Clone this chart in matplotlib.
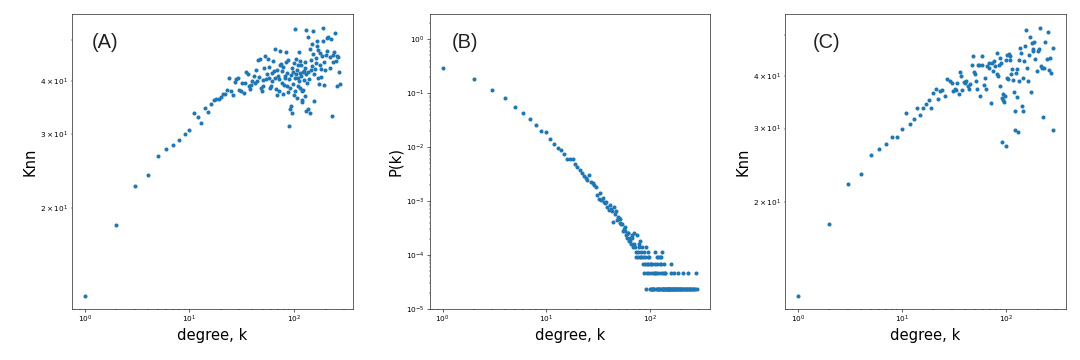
import matplotlib
matplotlib.use("Agg")
import numpy as np
import matplotlib.pyplot as plt

# panel A: average neighbour degree vs degree
deg_a = [1, 2, 3, 4, 5, 6, 7, 8, 9, 10, 11, 12, 13, 14, 15, 16, 17, 18, 19, 20,
         21, 22, 23, 24, 25, 26, 27, 28, 29, 30, 31, 32, 33, 34, 35, 36, 37, 38, 39, 40,
         41, 42, 43, 44, 45, 46, 47, 48, 49, 50, 51, 52, 53, 54, 55, 56, 57, 58, 59, 60,
         61, 62, 63, 64, 65, 66, 67, 68, 69, 70, 71, 72, 73, 74, 75, 76, 77, 78, 79, 80,
         81, 82, 83, 84, 85, 86, 87, 88, 89, 90, 91, 92, 93, 94, 95, 96, 97, 98, 99, 100,
         101, 102, 103, 104, 105, 106, 107, 108, 109, 110, 111, 112, 113, 114, 115, 116, 117, 118, 119, 120,
         121, 122, 123, 124, 126, 127, 128, 129, 130, 131, 133, 135, 136, 137, 139, 141, 142, 144, 146, 147,
         149, 151, 152, 154, 155, 158, 161, 163, 164, 166, 168, 170, 173, 175, 177, 179, 182, 184, 188, 190,
         193, 195, 197, 201, 205, 208, 213, 218, 220, 225, 230, 235, 237, 243, 246, 252, 255, 259, 265, 270, 275]
knn_a = [12.4, 18.2, 22.6, 24.0, 26.6, 27.6, 28.2, 29.0, 30.0, 30.6, 33.6, 32.8, 31.8, 34.6, 33.8, 35.3, 36.0, 36.3, 36.2, 36.7,
         37.2, 37.3, 38.2, 40.6, 37.9, 37.0, 39.9, 40.4, 40.6, 38.2, 37.9, 39.7, 37.5, 39.7, 42.0, 41.5, 38.9, 38.3, 39.2, 40.0,
         41.1, 39.5, 42.6, 40.0, 44.9, 41.0, 45.2, 38.6, 38.0, 38.9, 40.2, 43.0, 45.9, 40.4, 41.6, 45.2, 40.6, 43.2, 38.6, 38.9,
         40.1, 41.9, 44.6, 42.3, 47.8, 40.8, 38.3, 42.6, 37.0, 41.2, 37.9, 40.5, 47.1, 43.8, 44.0, 42.3, 39.7, 43.2, 37.2, 39.1,
         41.1, 40.6, 46.9, 44.3, 39.0, 41.9, 45.0, 37.6, 31.3, 40.4, 34.3, 38.6, 41.3, 35.0, 43.0, 33.6, 39.4, 42.0, 44.2, 37.0,
         53.1, 40.8, 38.0, 41.5, 45.1, 42.5, 36.5, 38.9, 43.6, 40.6, 46.8, 40.0, 41.9, 38.5, 44.7, 41.2, 43.8, 37.9, 35.6, 36.1,
         42.0, 38.2, 40.3, 42.3, 36.8, 43.0, 44.5, 33.9, 41.5, 53.0, 39.7, 42.0, 50.8, 34.4, 40.5, 47.6, 33.6, 42.6, 44.8, 43.4,
         48.9, 46.5, 52.6, 41.5, 35.8, 42.8, 45.4, 44.1, 49.9, 48.5, 47.5, 40.8, 39.3, 43.6, 46.7, 41.0, 42.8, 46.0, 53.6, 49.9,
         39.1, 44.5, 42.6, 46.2, 50.5, 47.2, 50.8, 43.0, 45.6, 50.3, 33.0, 46.2, 44.3, 47.0, 52.1, 44.7, 45.9, 38.9, 45.7, 42.0, 39.3]

# panel B: degree distribution (node counts per degree)
n_nodes = 43150
deg_b = [1, 2, 3, 4, 5, 6, 7, 8, 9, 10, 11, 12, 13, 14, 15, 16, 17, 18, 19, 20,
         21, 22, 23, 24, 25, 26, 27, 28, 29, 30, 31, 32, 33, 34, 35, 36, 37, 38, 39, 40,
         41, 42, 43, 44, 45, 46, 47, 48, 49, 50, 51, 52, 53, 54, 55, 56, 57, 58, 59, 60,
         61, 62, 63, 64, 65, 66, 67, 68, 69, 70, 71, 72, 73, 74, 75, 76, 77, 78, 79, 80,
         81, 82, 83, 84, 85, 86, 87, 88, 89, 90, 91, 92, 93, 94, 95, 96, 97, 98, 99, 100,
         101, 102, 103, 104, 105, 106, 107, 108, 109, 110, 111, 112, 113, 114, 115, 116, 117, 118, 119, 120,
         121, 122, 123, 124, 125, 126, 127, 128, 129, 130, 131, 132, 133, 134, 135, 136, 137, 138, 139, 140,
         141, 143, 145, 147, 149, 150, 152, 153, 155, 157, 158, 160, 161, 162, 164, 166, 168, 170, 172, 174,
         176, 178, 180, 183, 185, 187, 189, 192, 195, 198, 201, 204, 207, 210, 214, 218, 222, 226, 230, 233,
         236, 240, 245, 250, 255, 260, 265, 271, 277, 284]
count_b = [12500, 7810, 4880, 3470, 2365, 1834, 1420, 1096, 850, 815,
           604, 488, 417, 378, 318, 257, 259, 259, 208, 183,
           160, 140, 125, 114, 106, 132, 99, 92, 86, 80,
           56, 47, 62, 45, 50, 42, 39, 41, 34, 30,
           36, 31, 28, 18, 34, 25, 28, 19, 22, 21,
           17, 20, 16, 16, 12, 13, 12, 14, 10, 9,
           11, 11, 8, 9, 8, 7, 10, 9, 6, 11,
           7, 6, 4, 5, 10, 5, 4, 7, 6, 4,
           8, 5, 4, 6, 3, 4, 5, 2, 3, 4,
           6, 1, 3, 2, 4, 3, 5, 2, 4, 3,
           1, 3, 1, 2, 1, 3, 1, 1, 2, 1, 3, 2, 5, 2, 1, 4, 1, 3, 1, 4,
           2, 1, 1, 3, 4, 1, 2, 4, 3, 1, 5, 1, 2, 1, 1, 3, 1, 1, 2, 1,
           2, 1, 1, 1, 1, 1, 1, 1, 1, 1, 1, 3, 2, 1, 1, 1, 1, 2, 1, 1,
           1, 1, 1, 1, 1, 2, 1, 1, 1, 1, 1, 1, 2, 1, 1, 1, 1, 1, 1, 2,
           1, 1, 1, 1, 1, 1, 1, 1, 2, 1]

# panel C: average neighbour degree vs degree (second network)
deg_c = [1, 2, 3, 4, 5, 6, 7, 8, 9, 10, 11, 12, 13, 14, 15, 16, 17, 18, 19, 20,
         21, 22, 23, 24, 26, 27, 29, 30, 31, 32, 33, 34, 35, 36, 37, 38, 39, 40, 41, 43,
         44, 45, 47, 48, 49, 50, 51, 53, 54, 55, 56, 58, 59, 61, 63, 64, 66, 68, 69, 71,
         73, 74, 77, 79, 81, 82, 84, 85, 87, 88, 90, 91, 92, 93, 94, 96, 97, 99, 100, 101,
         103, 104, 106, 108, 110, 112, 114, 117, 119, 121, 122, 124, 126, 128, 131, 132, 134, 135, 138, 141,
         144, 146, 149, 153, 156, 157, 161, 165, 169, 173, 176, 180, 182, 185, 189, 196, 203, 208, 211, 216,
         219, 227, 232, 237, 245, 250, 260, 263, 268, 280, 283]
knn_c = [12.0, 17.8, 22.1, 23.4, 25.9, 26.8, 27.5, 28.6, 28.6, 29.9, 32.6, 30.7, 31.6, 33.6, 32.3, 33.6, 34.4, 35.1, 33.6, 36.5,
         37.2, 35.2, 36.9, 37.0, 35.8, 39.3, 39.0, 38.6, 36.9, 37.2, 37.1, 38.6, 36.2, 40.9, 40.1, 37.1, 38.7, 38.6, 39.0, 37.9,
         37.2, 38.2, 42.5, 44.6, 40.9, 40.4, 39.0, 37.3, 42.6, 42.5, 35.9, 44.6, 42.5, 38.0, 39.6, 37.2, 42.2, 43.0, 41.9, 34.6,
         43.0, 41.1, 43.4, 42.3, 45.4, 40.4, 40.0, 42.4, 44.2, 37.8, 43.0, 35.4, 27.8, 36.3, 35.1, 34.7, 35.8, 43.8, 27.2, 39.6,
         45.0, 39.3, 45.2, 43.6, 44.6, 40.4, 41.5, 39.1, 36.6, 33.0, 29.7, 40.7, 41.6, 35.6, 29.5, 39.0, 43.7, 46.6, 45.4, 33.9,
         39.6, 33.0, 43.4, 47.1, 51.6, 41.9, 39.0, 45.0, 49.5, 36.6, 48.0, 45.8, 46.4, 48.2, 44.0, 41.1, 46.0, 46.3, 52.2, 42.3,
         41.9, 32.0, 41.7, 48.1, 44.0, 50.9, 41.3, 44.2, 40.7, 46.6, 29.7]

pk_b = np.array(count_b) / n_nodes

fig = plt.figure(figsize=(20.25, 6.75), dpi=1080 / 20.25)
ax_a = fig.add_axes([0.0667, 0.1417, 0.260, 0.819])
ax_b = fig.add_axes([0.398, 0.1417, 0.259, 0.819])
ax_c = fig.add_axes([0.727, 0.1417, 0.260, 0.819])

ax_a.scatter(deg_a, knn_a, s=30, linewidths=0)
ax_b.scatter(deg_b, pk_b, s=30, linewidths=0)
ax_c.scatter(deg_c, knn_c, s=30, linewidths=0)

for ax in (ax_a, ax_b, ax_c):
    ax.set_xscale('log')
    ax.set_yscale('log')
    ax.set_xlabel('degree, k', fontsize=20)

ax_b.set_ylim(1e-5, 2.9)

ax_a.set_ylabel('Knn', fontsize=20)
ax_b.set_ylabel('P(k)', fontsize=20)
ax_c.set_ylabel('Knn', fontsize=20)

# panel tags
tag_font = dict(fontsize=27, family='Liberation Sans', va='center', color='#222222')
ax_a.text(0.071, 0.905, '(A)', transform=ax_a.transAxes, **tag_font)
ax_b.text(0.079, 0.905, '(B)', transform=ax_b.transAxes, **tag_font)
ax_c.text(0.099, 0.905, '(C)', transform=ax_c.transAxes, **tag_font)

fig.savefig('out.png', dpi=1080 / 20.25)
